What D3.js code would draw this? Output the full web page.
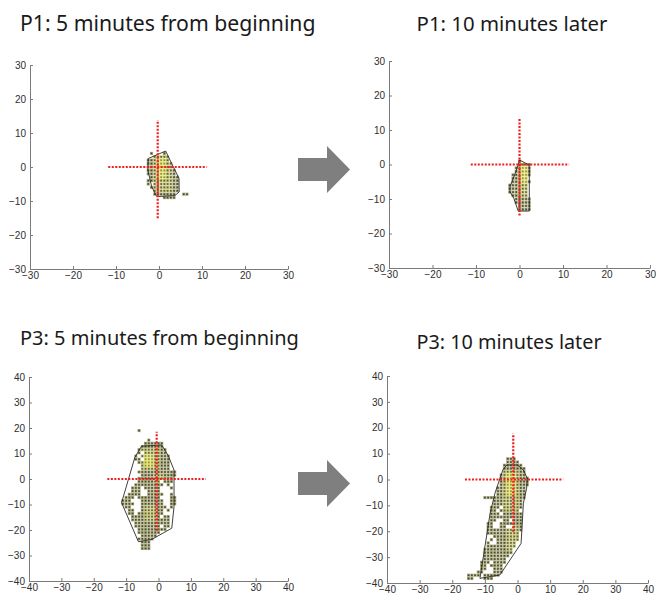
<!DOCTYPE html>
<html>
<head>
<meta charset="utf-8">
<script src="https://cdn.jsdelivr.net/npm/d3@7"></script>
<style>
  body { margin: 0; background: #fff; }
  .tick text { font-family: "Liberation Sans", Arial, sans-serif; font-size: 10px; fill: #2e2e2e; }
  .title { font-family: "Noto Sans", sans-serif; fill: #1a1a1a; }
</style>
</head>
<body>
<div id="chart"></div>
<script>
// tick values
var ticks30 = [-30, -20, -10, 0, 10, 20, 30];
var ticks40 = [-40, -30, -20, -10, 0, 10, 20, 30, 40];

var titles = ["P1: 5 minutes from beginning", "P1: 10 minutes later",
              "P3: 5 minutes from beginning", "P3: 10 minutes later"];

// occupied cells, one row per y: [y, [[xStart, xEnd], ...]]
// P1 grid step x 0.75, y 1
var p1Rows = [
  [4, [[-1.75, -1.75], [1.25, 1.25]]],
  [3, [[-1, 2]]],
  [2, [[-2.5, 2]]],
  [1, [[-2.5, 2.75]]],
  [0, [[-2.5, 2.75]]],
  [-1, [[-2.5, 3.5]]],
  [-2, [[-2.5, 3.5]]],
  [-3, [[-1.75, 4.25]]],
  [-4, [[-2.5, 4.25]]],
  [-5, [[-2.5, -2.5], [-1, 4.25]]],
  [-6, [[-1.75, 4.25]]],
  [-7, [[-1, 4.25]]],
  [-8, [[-1, 3.5], [5.75, 6.5]]],
  [-9, [[1.25, 3.5]]]
];
var p1Bright = [[-0.25, 1.25, -3, 2, 2], [-1, 2.75, -7, 3, 1]];
var p1Hull = [[-2.5, 2.5], [1.55, 4.7], [3.3, 0.1], [4.65, -3.3], [4.7, -7.3],
              [3.7, -8.4], [-0.5, -8.7], [-1.7, -5.8], [-2.6, -0.9]];
var p1Cross = {x: -0.3, y: 0, h: [-11.8, 11.1], v: [-15.1, 13.8]};

// P1 later
var p2Rows = [
  [1, [[0, 0]]],
  [0, [[0, 2.25]]],
  [-1, [[-0.75, 2.25]]],
  [-2, [[-0.75, 2.25]]],
  [-3, [[-1.5, 2.25]]],
  [-4, [[-1.5, 1.5]]],
  [-5, [[-1.5, 2.25]]],
  [-6, [[-2.25, 1.5]]],
  [-7, [[-2.25, 1.5]]],
  [-8, [[-2.25, 1.5]]],
  [-9, [[-1.5, 1.5]]],
  [-10, [[-0.75, 2.25]]],
  [-11, [[-0.75, 2.25]]],
  [-12, [[0, 2.25]]],
  [-13, [[0, 2.25]]]
];
var p2Bright = [[0.75, 1.5, -5, -1, 2], [0, 1.5, -9, 0, 1]];
var p2Hull = [[0, 1.3], [2.0, 0], [2.25, -0.5], [2.25, -13.5], [-0.3, -13.5],
              [-1.3, -9.8], [-2.2, -7.9], [-2.2, -6.5], [-1.0, -2.6], [-0.3, -0.1]];
var p2Cross = {x: 0, y: 0, h: [-11.2, 11.4], v: [-14.8, 13.4]};

// P3 grid step x 1, y 1.25
var p3Rows = [
  [19, [[-6, -6]]],
  [15.25, [[-3, -3]]],
  [14, [[-4, 1]]],
  [12.75, [[-5, 1]]],
  [11.5, [[-6, 2]]],
  [10.25, [[-6, -6], [-4, 2]]],
  [9, [[-7, -7], [-5, 3]]],
  [7.75, [[-7, -6], [-4, 3]]],
  [6.5, [[-6, -6], [-5, 3]]],
  [5.25, [[-5, 3]]],
  [4, [[-5, 3]]],
  [2.75, [[-6, 5]]],
  [1.5, [[-5, 5]]],
  [0.25, [[-6, 4]]],
  [-1, [[-6, 0], [2, 4]]],
  [-2.25, [[-7, -6], [-5, 1], [3, 3]]],
  [-3.5, [[-8, -6], [-4, 0], [4, 4]]],
  [-4.75, [[-8, -6], [-3, 0]]],
  [-6, [[-9, -6], [-3, 1], [4, 4]]],
  [-7.25, [[-10, -8], [-6, -5], [-4, 0], [4, 5]]],
  [-8.5, [[-11, -9], [-5, 1], [4, 5]]],
  [-9.75, [[-11, -9], [-8, -8], [-5, 1], [4, 5]]],
  [-11, [[-10, -9], [-5, 2], [4, 4]]],
  [-12.25, [[-9, -8], [-5, 1], [3, 3]]],
  [-13.5, [[-9, -8], [-6, 1]]],
  [-14.75, [[-8, 0], [2, 3]]],
  [-16, [[-8, 3]]],
  [-17.25, [[-7, 3]]],
  [-18.5, [[-7, 0], [2, 3]]],
  [-19.75, [[-6, 2]]],
  [-21, [[-6, 0]]],
  [-22.25, [[-5, -1]]],
  [-23.5, [[-6, -2]]],
  [-24.75, [[-5, -3]]],
  [-26, [[-5, -3]]],
  [-27.25, [[-5, -3]]]
];
var p3Bright = [[-4, -2, 5, 9, 2], [-5, 0, 3, 12, 1], [-1, 1, -1, 1.5, 1], [-4, -1, -16, -11, 1]];
var p3Hull = [[-5.2, 12.9], [1.0, 13.3], [3.0, 9.2], [4.8, 3.5], [4.8, -10.8], [4.1, -19.3],
              [-2.1, -23.7], [-6.2, -24.6], [-11.4, -9.3], [-7.3, 8.5]];
var p3Cross = {x: -0.56, y: 0, h: [-15.8, 14.6], v: [-20.3, 18.5]};

// P3 later
var p4Rows = [
  [8, [[-3, -1]]],
  [6.75, [[-3, 0]]],
  [5.5, [[-4, 1]]],
  [4.25, [[-4, 2]]],
  [3, [[-4, 2]]],
  [1.75, [[-5, 2]]],
  [0.5, [[-5, 3]]],
  [-0.75, [[-5, 3]]],
  [-2, [[-5, 3]]],
  [-3.25, [[-6, 2]]],
  [-4.5, [[-6, 2]]],
  [-5.75, [[-6, 2]]],
  [-7, [[-10, -7], [-6, 2]]],
  [-8.25, [[-7, 1]]],
  [-9.5, [[-7, 1]]],
  [-10.75, [[-8, -6], [-4, 1]]],
  [-12, [[-8, -7], [-5, 0]]],
  [-13.25, [[-8, -6], [-4, 1]]],
  [-14.5, [[-8, 1]]],
  [-15.75, [[-8, -7], [-4, -3], [-1, 1]]],
  [-17, [[-9, -8], [-5, -3], [-2, 1]]],
  [-18.25, [[-9, -8], [-5, -4], [-1, 1]]],
  [-19.5, [[-9, 1]]],
  [-20.75, [[-9, 0]]],
  [-22, [[-7, 0]]],
  [-23.25, [[-8, -8], [-6, 0]]],
  [-24.5, [[-9, -9], [-6, -1]]],
  [-25.75, [[-9, -7], [-6, -1]]],
  [-27, [[-10, -2]]],
  [-28.25, [[-10, -2]]],
  [-29.5, [[-10, -3]]],
  [-30.75, [[-10, -4]]],
  [-32, [[-11, -9], [-7, -4]]],
  [-33.25, [[-11, -10], [-8, -5]]],
  [-34.5, [[-11, -10], [-7, -5]]],
  [-35.75, [[-12, -11], [-7, -5]]],
  [-37, [[-15, -12], [-10, -6]]],
  [-38.25, [[-15, -14], [-10, -8]]]
];
var p4Bright = [[-3, -1, -6, 2, 2], [-4, 0, -12, 4, 1], [-3, 0, -28, -18, 1]];
var p4Hull = [[-4.5, 3.7], [-3.3, 5.6], [0.05, 5.6], [1.8, 3.7], [3.0, 0.45], [2.8, -3.4],
              [1.8, -9.2], [1.1, -24.7], [-5.4, -36.9], [-11.5, -38.2], [-8.4, -13.1], [-6.9, -5.3]];
var p4Cross = {x: -1.3, y: 0, h: [-16.1, 14.0], v: [-20.2, 17.8]};

var svgWidth = 656, svgHeight = 597;

var svg = d3.select("#chart").append("svg")
  .attr("width", svgWidth)
  .attr("height", svgHeight);

// cell colours by brightness level: [outer, inner]
var cellColors = [["#a8a878", "#47473a"], ["#c2c274", "#5e5e3c"], ["#dcdc62", "#8e8e44"]];

var panels = [
  {rows: p1Rows, dx: 0.75, bright: p1Bright, hull: p1Hull, cross: p1Cross, lim: 30, ticks: ticks30,
   xr: [30, 288], yr: [269, 65], title: titles[0], tx: 20, ty: 31, fs: 21.2, anchor: "start"},
  {rows: p2Rows, dx: 0.75, bright: p2Bright, hull: p2Hull, cross: p2Cross, lim: 30, ticks: ticks30,
   xr: [389, 650], yr: [268, 61], title: titles[1], tx: 512, ty: 31, fs: 20.4, anchor: "middle"},
  {rows: p3Rows, dx: 1, bright: p3Bright, hull: p3Hull, cross: p3Cross, lim: 40, ticks: ticks40,
   xr: [29, 288], yr: [581, 377], title: titles[2], tx: 20, ty: 345, fs: 20, anchor: "start"},
  {rows: p4Rows, dx: 1, bright: p4Bright, hull: p4Hull, cross: p4Cross, lim: 40, ticks: ticks40,
   xr: [387, 648], yr: [583, 376], title: titles[3], tx: 509, ty: 349, fs: 19.8, anchor: "middle"}
];

panels.forEach(function(p) {
  var x = d3.scaleLinear().domain([-p.lim, p.lim]).range(p.xr);
  var y = d3.scaleLinear().domain([-p.lim, p.lim]).range(p.yr);
  var g = svg.append("g");

  // title
  svg.append("text")
    .attr("class", "title")
    .attr("x", p.tx)
    .attr("y", p.ty)
    .attr("font-size", p.fs + "px")
    .attr("text-anchor", p.anchor)
    .text(p.title);

  // axes
  var bottomAxis = d3.axisBottom(x).tickValues(p.ticks).tickSizeInner(-3).tickSizeOuter(0).tickPadding(3);
  var leftAxis = d3.axisLeft(y).tickValues(p.ticks).tickSizeInner(-3).tickSizeOuter(0).tickPadding(4);

  var gx = g.append("g").attr("transform", `translate(0, ${p.yr[0]})`).call(bottomAxis);
  var gy = g.append("g").attr("transform", `translate(${p.xr[0]}, 0)`).call(leftAxis);
  [gx, gy].forEach(function(a) {
    a.select(".domain").attr("stroke", "#7a7a7a");
    a.selectAll(".tick line").attr("stroke", "#7a7a7a");
  });

  // expand rows into cells
  var cells = [];
  p.rows.forEach(function(r) {
    r[1].forEach(function(seg) {
      for (var cx = seg[0]; cx <= seg[1] + 1e-6; cx += p.dx) {
        var lvl = 0;
        p.bright.forEach(function(b) {
          if (cx >= b[0] - 1e-6 && cx <= b[1] + 1e-6 && r[0] >= b[2] && r[0] <= b[3]) lvl = Math.max(lvl, b[4]);
        });
        cells.push({x: cx, y: r[0], lvl: lvl});
      }
    });
  });

  var s = 3.1, si = 1.6;
  g.selectAll(null)
    .data(cells)
    .enter()
    .append("rect")
    .attr("x", d => x(d.x) - s / 2)
    .attr("y", d => y(d.y) - s / 2)
    .attr("width", s)
    .attr("height", s)
    .attr("fill", d => cellColors[d.lvl][0]);

  g.selectAll(null)
    .data(cells)
    .enter()
    .append("rect")
    .attr("x", d => x(d.x) - si / 2)
    .attr("y", d => y(d.y) - si / 2)
    .attr("width", si)
    .attr("height", si)
    .attr("fill", d => cellColors[d.lvl][1]);

  // hull outline
  g.append("path")
    .datum(p.hull)
    .attr("d", d3.line().x(d => x(d[0])).y(d => y(d[1])).curve(d3.curveLinearClosed))
    .attr("fill", "none")
    .attr("stroke", "#2a2a2a")
    .attr("stroke-width", 0.9);

  // red dotted crosshair
  g.append("line")
    .attr("x1", x(p.cross.h[0])).attr("x2", x(p.cross.h[1]))
    .attr("y1", y(p.cross.y)).attr("y2", y(p.cross.y))
    .attr("stroke", "#f01e1e").attr("stroke-width", 2.2)
    .attr("stroke-dasharray", "2,1.5");
  g.append("line")
    .attr("x1", x(p.cross.x)).attr("x2", x(p.cross.x))
    .attr("y1", y(p.cross.v[0])).attr("y2", y(p.cross.v[1]))
    .attr("stroke", "#f01e1e").attr("stroke-width", 2.2)
    .attr("stroke-dasharray", "2,1.5");
});

// gray arrows between panels
var arrows = [169.5, 483.5];
arrows.forEach(function(cy) {
  svg.append("path")
    .attr("d", `M298,${cy - 11.5} H327 V${cy - 23.5} L350,${cy} L327,${cy + 23.5} V${cy + 11.5} H298 Z`)
    .attr("fill", "#7f7f7f");
});
</script>
</body>
</html>
